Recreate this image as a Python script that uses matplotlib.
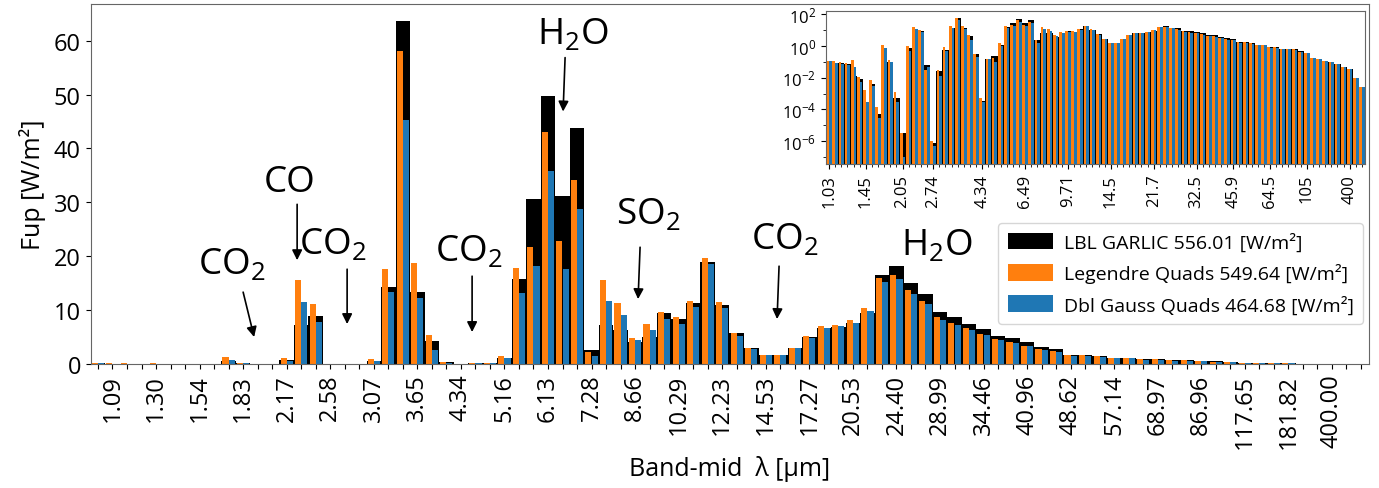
import matplotlib

matplotlib.use("Agg")
import matplotlib.pyplot as plt
import numpy as np
from matplotlib.ticker import FixedLocator, NullFormatter

plt.rcParams["font.family"] = ["Open Sans", "DejaVu Sans"]
plt.rcParams["mathtext.fontset"] = "custom"
plt.rcParams["mathtext.rm"] = "Open Sans"
plt.rcParams["mathtext.it"] = "Open Sans:italic"
plt.rcParams["mathtext.bf"] = "Open Sans:bold"

# --- data: upward flux per band [W/m2], 88 bands ---
lbl = [0.10, 0.09, 0.09, 0.07, 0.012, 0.008, 0.0003, 0.004, 5e-5, 0.5,
       0.1, 5e-4, 3e-6, 0.75, 7.2, 8.95, 0.06, 8e-7, 0.025, 0.6,
       14.3, 63.6, 13.3, 4.2, 0.3, 3.2e-4, 0.15, 0.25, 1.1, 15.7,
       30.6, 49.8, 31.1, 43.8, 2.6, 7.2, 6.3, 4.0, 5.1, 9.4,
       8.3, 11.3, 18.9, 10.9, 5.7, 2.9, 1.67, 1.67, 2.9, 5.1,
       6.7, 6.8, 7.7, 9.4, 16.5, 18.1, 15.0, 13.0, 9.7, 8.8,
       7.5, 6.5, 5.25, 4.8, 4.0, 3.1, 2.8, 1.73, 1.73, 1.54,
       1.1, 1.1, 0.86, 0.86, 0.68, 0.68, 0.62, 0.49, 0.37, 0.19,
       0.15, 0.12, 0.10, 0.07, 0.05, 0.035, 0.010, 0.0025]
legendre = [0.11, 0.11, 0.10, 0.09, 0.13, 0.011, 0.0016, 0.007, 1.5e-4, 1.24,
            0.13, 1.2e-3, 3e-6, 1.05, 15.5, 11.1, 0.03, 1e-6, 0.03, 0.93,
            17.6, 58.0, 18.7, 5.4, 0.33, 5.5e-4, 0.15, 0.18, 1.5, 17.8,
            21.7, 43.1, 22.8, 34.1, 2.3, 15.6, 11.3, 4.8, 7.4, 9.7,
            8.8, 11.7, 19.6, 11.5, 5.7, 2.9, 1.67, 1.67, 3.0, 5.2,
            7.0, 7.2, 8.15, 10.4, 15.9, 16.5, 13.7, 11.7, 8.8, 7.6,
            6.6, 5.55, 4.6, 4.1, 3.4, 2.8, 2.4, 1.73, 1.7, 1.54,
            1.1, 1.1, 0.86, 0.86, 0.68, 0.68, 0.62, 0.43, 0.37, 0.19,
            0.15, 0.12, 0.10, 0.07, 0.05, 0.035, 0.010, 0.0025]
dblgauss = [0.11, 0.08, 0.07, 0.06, 0.05, 0.005, 0.0003, 0.003, 3e-5, 0.74,
            0.1, 3e-4, 1e-7, 0.5, 11.5, 7.8, 0.05, 5e-7, 0.012, 0.5,
            13.3, 45.2, 12.2, 2.6, 0.22, 3e-4, 0.15, 0.1, 1.05, 13.1,
            18.1, 35.9, 17.6, 28.7, 1.5, 11.7, 9.1, 4.4, 6.35, 8.3,
            7.4, 10.6, 18.5, 10.4, 5.25, 2.8, 1.6, 1.67, 3.0, 4.85,
            6.6, 7.0, 7.7, 9.75, 15.2, 15.7, 13.0, 11.1, 8.15, 7.2,
            6.4, 5.4, 4.4, 3.9, 3.3, 2.6, 2.3, 1.54, 1.54, 1.36,
            1.1, 1.1, 0.8, 0.8, 0.63, 0.63, 0.55, 0.43, 0.37, 0.19,
            0.15, 0.12, 0.10, 0.07, 0.05, 0.035, 0.010, 0.0025]

series_labels = ["LBL GARLIC 556.01 [W/m²]",
                 "Legendre Quads 549.64 [W/m²]",
                 "Dbl Gauss Quads 464.68 [W/m²]"]

# band-mid wavelength labels (every third band, starting at band 1)
main_tick_labels = ["1.09", "1.30", "1.54", "1.83", "2.17", "2.58", "3.07", "3.65",
                    "4.34", "5.16", "6.13", "7.28", "8.66", "10.29", "12.23",
                    "14.53", "17.27", "20.53", "24.40", "28.99", "34.46", "40.96",
                    "48.62", "57.14", "68.97", "86.96", "117.65", "181.82", "400.00"]
inset_tick_idx = [0, 6, 12, 17, 25, 32, 39, 46, 53, 60, 66, 72, 78, 85]
inset_tick_labels = ["1.03", "1.45", "2.05", "2.74", "4.34", "6.49", "9.71", "14.5",
                     "21.7", "32.5", "45.9", "64.5", "105", "400"]

# molecule annotations: label, text pos, arrow tail, arrow head (pixel coords)
annotations = [
    ("CO$_2$", (232, 265), (243, 293), (254, 338)),
    ("CO", (289, 183), (297, 205), (297, 261)),
    ("CO$_2$", (333, 245), (347, 270), (347, 325)),
    ("CO$_2$", (469, 252), (472, 277), (472, 333)),
    ("H$_2$O", (573, 34), (565, 58), (563, 112)),
    ("SO$_2$", (648, 215), (640, 248), (638, 300)),
    ("CO$_2$", (785, 240), (779, 267), (777, 320)),
    ("H$_2$O", (937, 246), None, None),
]

ORANGE = "#ff7f0e"
BLUE = "#1f77b4"
SPINE = "#666666"

n = len(lbl)
x = np.arange(n)

W, H = 1379, 489
fig = plt.figure(figsize=(W / 100, H / 100), dpi=100)
ax = fig.add_axes([90.7 / W, 1 - 365 / H, (1369 - 90.7) / W, 360 / H])

ax.bar(x, lbl, width=1.0, color="black", label=series_labels[0])
ax.bar(x - 0.215, legendre, width=0.42, color=ORANGE, label=series_labels[1])
ax.bar(x + 0.21, dblgauss, width=0.42, color=BLUE, label=series_labels[2])

ax.set_xlim(-0.5, n - 0.45)
ax.set_ylim(0, 66.8)
ax.set_xticks(x)
xt = [""] * n
for k, lab in enumerate(main_tick_labels):
    xt[1 + 3 * k] = lab
ax.set_xticklabels(xt, rotation=90, fontsize=17)
ax.tick_params(axis="y", labelsize=17)
ax.set_yticks([0, 10, 20, 30, 40, 50, 60])
ax.set_xlabel("Band-mid  λ [µm]", fontsize=18, labelpad=5)
ax.set_ylabel("Fup [W/m²]", fontsize=18, labelpad=6)
for s in ax.spines.values():
    s.set_color(SPINE)

# pixel -> data helpers for the annotation layout
def px2data(p):
    return ((p[0] - 97.8) / 14.52, (365 - p[1]) / 5.4)

for txt, tpos, tail, head in annotations:
    tx, ty = px2data(tpos)
    ax.text(tx, ty, txt, fontsize=26.5, ha="center", va="center")
    if tail is not None:
        ax.annotate("", xy=px2data(head), xytext=px2data(tail),
                    arrowprops=dict(arrowstyle="-|>", color="black", lw=1.2,
                                    mutation_scale=15, shrinkA=0, shrinkB=0))

leg = ax.legend(loc="lower right", bbox_to_anchor=(0.9955, 0.111), fontsize=14,
                handlelength=2.3, handleheight=0.95, borderpad=0.5,
                labelspacing=0.6, handletextpad=0.55, borderaxespad=0)
leg.get_frame().set_edgecolor("#cccccc")

# --- inset on log scale ---
axi = fig.add_axes([826 / W, 1 - 165 / H, 539 / W, 153 / H])
axi.bar(x, lbl, width=1.0, color="black", bottom=1e-10)
axi.bar(x - 0.225, legendre, width=0.45, color=ORANGE, bottom=1e-10)
axi.bar(x + 0.225, dblgauss, width=0.45, color=BLUE, bottom=1e-10)
axi.set_yscale("log")
axi.set_ylim(3.5e-8, 1.66e2)
axi.set_xlim(-0.5, n - 0.5)
axi.yaxis.set_major_locator(FixedLocator([1e-6, 1e-4, 1e-2, 1e0, 1e2]))
axi.yaxis.set_minor_locator(FixedLocator([1e-7, 1e-5, 1e-3, 1e-1, 1e1]))
axi.yaxis.set_minor_formatter(NullFormatter())
axi.set_yticklabels([r"$\mathregular{10^{-6}}$", r"$\mathregular{10^{-4}}$",
                     r"$\mathregular{10^{-2}}$", r"$\mathregular{10^{0}}$",
                     r"$\mathregular{10^{2}}$"])
axi.set_xticks(inset_tick_idx)
axi.set_xticklabels(inset_tick_labels, rotation=90)
axi.set_xticks(x, minor=True)
axi.tick_params(axis="both", which="major", labelsize=12)
axi.tick_params(axis="x", which="minor", length=2)
for s in axi.spines.values():
    s.set_color(SPINE)

fig.savefig("out.png", dpi=100)
